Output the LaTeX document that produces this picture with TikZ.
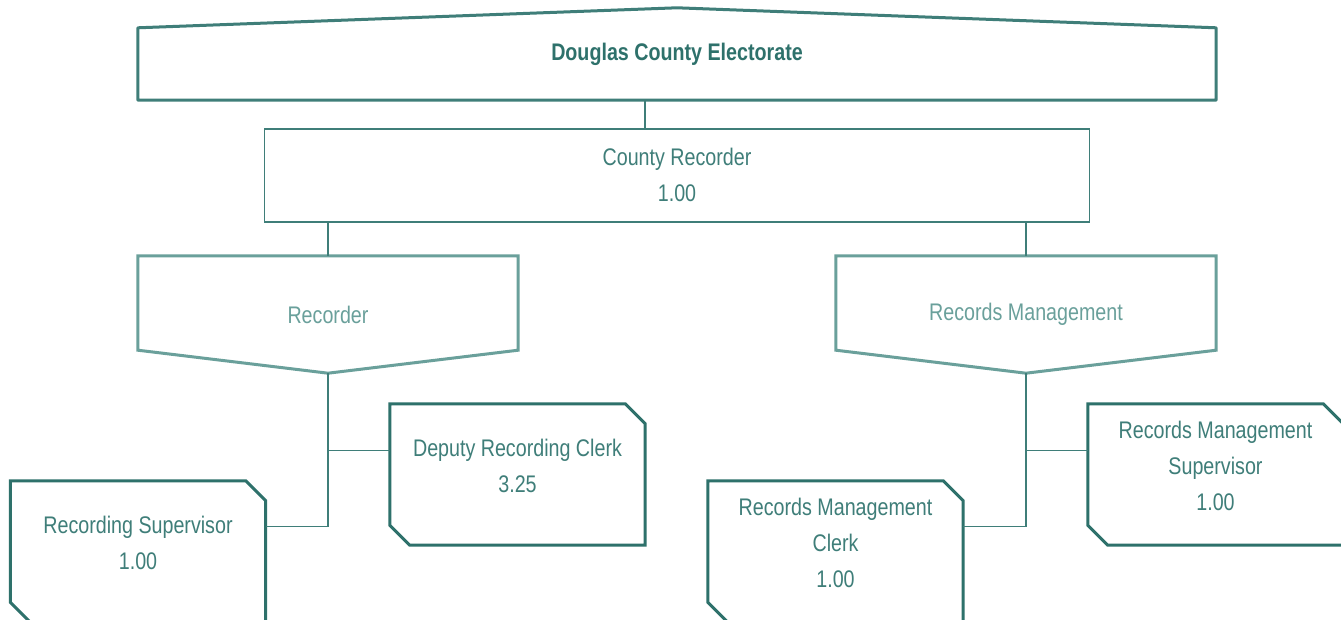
\documentclass[tikz,border=0pt]{standalone}
\usepackage{fontspec}
\setmainfont{Liberation Sans}[FakeStretch=0.82]
\usetikzlibrary{calc,positioning}

\definecolor{tealdark}{HTML}{2E716B}
\definecolor{tealmid}{HTML}{3F7E79}
\definecolor{teallight}{HTML}{6AA09B}

\begin{document}
\begin{tikzpicture}[x=1pt,y=-1pt,node distance=28pt]
	\tikzstyle{office}=[text centered, align=center, text=tealmid, inner sep=0pt, font=\fontsize{24}{36}\selectfont]
	\tikzstyle{head}=[office, text=tealdark, font=\fontsize{24}{36}\selectfont\bfseries, minimum width=1078pt, minimum height=92pt]
	\tikzstyle{chief}=[office, draw=tealmid, line width=1.4pt, minimum width=825pt, minimum height=93pt]
	\tikzstyle{division}=[office, text=teallight, minimum width=380pt, minimum height=117pt]
	\tikzstyle{staff}=[office, minimum width=255pt, minimum height=141pt, text depth=17pt]
	\tikzstyle{headline}=[draw=tealmid, line width=3pt, line join=round]
	\tikzstyle{divline}=[draw=teallight, line width=3pt]
	\tikzstyle{staffline}=[draw=tealdark, line width=3pt]
	\tikzstyle{link}=[draw=tealmid, line width=1.3pt]

	\path[use as bounding box, fill=white] (0,0) rectangle (1341,620);

	\node (elec) [head] at (677,54) {Douglas County Electorate};
	\node (cr) [chief, below=of elec] {County Recorder\\1.00};

	\node (rec) [division] at (328,314.5) {Recorder};
	\node (rm) [division] at (1026,314.5) {Records Management};

	\node (drc) [staff] at (517.5,474.5) {Deputy Recording Clerk\\3.25};
	\node (rs) [staff] at (138,551.5) {Recording Supervisor\\1.00};
	\node (rmc) [staff] at (835.5,551.5) {Records Management\\Clerk\\1.00};
	\node (rms) [staff] at (1215.5,474.5) {Records Management\\Supervisor\\1.00};

	% outlines
	\draw[headline] (elec.north) -- ([yshift=-20pt]elec.north east) -- (elec.south east)
		-- (elec.south west) -- ([yshift=-20pt]elec.north west) -- cycle;
	\foreach \d in {rec,rm}
		\draw[divline] (\d.north west) -- (\d.north east) -- ([yshift=23pt]\d.south east)
			-- (\d.south) -- ([yshift=23pt]\d.south west) -- cycle;
	\foreach \s in {drc,rs,rmc,rms}
		\draw[staffline] (\s.north west) -- ([xshift=-20pt]\s.north east) -- ([yshift=-20pt]\s.north east)
			-- (\s.south east) -- ([xshift=20pt]\s.south west) -- ([yshift=20pt]\s.south west) -- cycle;

	% links
	\draw[link] ([xshift=-32pt]elec.south) -- ([xshift=-32pt]cr.north);
	\draw[link] (rec.north |- cr.south) -- (rec.north);
	\draw[link] (rm.north |- cr.south) -- (rm.north);
	\draw[link] (rec.south) |- ([yshift=-46pt]rs.north east);
	\draw[link] ([yshift=-47pt]drc.north west) -| (rec.south);
	\draw[link] (rm.south) |- ([yshift=-46pt]rmc.north east);
	\draw[link] ([yshift=-47pt]rms.north west) -| (rm.south);
\end{tikzpicture}
\end{document}
